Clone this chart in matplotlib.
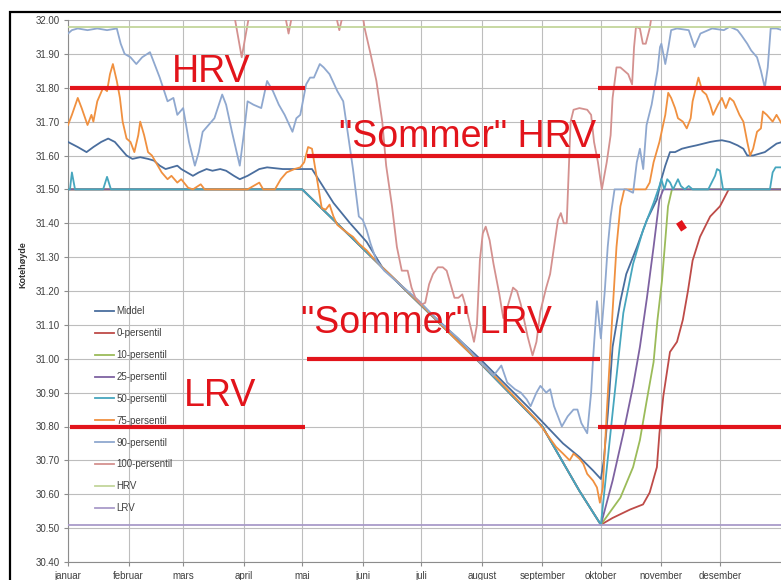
import matplotlib
matplotlib.use("Agg")
import matplotlib.pyplot as plt
from matplotlib.patches import Rectangle

plt.rcParams["font.family"] = ["Liberation Sans", "DejaVu Sans"]

# ── axis categories ─────────────────────────────────────────────────────────
MONTHS = ["januar", "februar", "mars", "april", "mai", "juni", "juli",
          "august", "september", "oktober", "november", "desember"]
MONTH_START = [0, 31, 59, 90, 120, 151, 181, 212, 243, 273, 304, 334]
Y_TICKS = [30.40, 30.50, 30.60, 30.70, 30.80, 30.90, 31.00, 31.10, 31.20,
           31.30, 31.40, 31.50, 31.60, 31.70, 31.80, 31.90, 32.00]

# ── series (day of year, kote) ──────────────────────────────────────────────
middel = [(0, 31.64), (5, 31.625), (9.5, 31.61), (13, 31.625), (17, 31.64),
          (20.6, 31.65), (24, 31.64), (27, 31.62), (30, 31.60), (33, 31.59),
          (37, 31.595), (41, 31.59), (44, 31.585), (47, 31.57), (50, 31.56),
          (53, 31.565), (56, 31.57), (58, 31.56), (61, 31.55), (64, 31.54),
          (67, 31.55), (71, 31.56), (74, 31.555), (78, 31.56), (81, 31.555),
          (85, 31.54), (88, 31.53), (92, 31.54), (95, 31.55), (98, 31.56),
          (102, 31.565), (110, 31.56), (125, 31.56), (136, 31.46), (144.5, 31.40),
          (153, 31.345), (161, 31.27), (170, 31.22), (180, 31.165), (195, 31.085),
          (211, 31.00), (237, 30.85), (253.6, 30.75), (262, 30.71), (269, 30.67),
          (273, 30.645), (274.5, 30.70), (276.6, 30.84), (279, 31.035), (283, 31.17),
          (286, 31.25), (291.5, 31.33), (296.6, 31.41), (301.7, 31.47), (304, 31.53),
          (306, 31.57), (308.4, 31.61), (311, 31.61), (314.5, 31.62), (318, 31.625),
          (322, 31.63), (329, 31.64), (332, 31.643), (335, 31.645), (339, 31.64),
          (343, 31.63), (346, 31.62), (348, 31.60), (351, 31.60), (354, 31.605),
          (357, 31.61), (360.6, 31.625), (363, 31.635), (366, 31.64)]

p0 = [(0, 31.50), (120, 31.50), (209, 31.00), (243, 30.80), (262, 30.61),
      (273, 30.51), (279, 30.53), (288, 30.555), (294.6, 30.57), (298, 30.605),
      (301.7, 30.68), (303, 30.78), (305, 30.89), (308.4, 31.02), (312, 31.05),
      (315, 31.115), (317.6, 31.20), (320, 31.29), (323.8, 31.36), (329, 31.42),
      (334, 31.45), (337.6, 31.49), (338.5, 31.50), (366, 31.50)]

p10 = [(0, 31.50), (120, 31.50), (209, 31.00), (243, 30.80), (262, 30.61),
       (273, 30.51), (283, 30.59), (289.5, 30.68), (293, 30.76), (296.6, 30.88),
       (300, 30.99), (302, 31.115), (304.3, 31.23), (306, 31.35), (307.4, 31.45),
       (309.4, 31.50), (366, 31.50)]

p25 = [(0, 31.50), (120, 31.50), (209, 31.00), (243, 30.80), (262, 30.61),
       (273, 30.51), (279, 30.64), (284.5, 30.78), (289.5, 30.92), (293, 31.035),
       (296.6, 31.18), (300, 31.33), (303, 31.47), (305, 31.50), (366, 31.50)]

p50 = [(0, 31.50), (1, 31.50), (2, 31.55), (3.6, 31.50), (18, 31.50),
       (20, 31.537), (22, 31.50), (120, 31.50), (209, 31.00), (243, 30.80),
       (262, 30.61), (273, 30.51), (279, 30.84), (284.5, 31.135), (289.5, 31.28),
       (294.6, 31.38), (300, 31.46), (303, 31.51), (304, 31.53), (305.5, 31.50),
       (307, 31.53), (308.5, 31.52), (310, 31.50), (312.5, 31.53), (314, 31.51),
       (316, 31.50), (318, 31.51), (320, 31.50), (328, 31.50), (331.5, 31.54),
       (332.5, 31.56), (334, 31.555), (335.6, 31.50), (359.6, 31.50), (361, 31.55),
       (362.5, 31.565), (366, 31.565)]

p75 = [(0, 31.69), (2, 31.72), (5, 31.77), (7, 31.74), (10, 31.69), (12, 31.72),
       (13, 31.70), (15, 31.76), (18, 31.80), (20, 31.79), (21.5, 31.84),
       (23, 31.87), (25, 31.82), (26.6, 31.77), (28, 31.70), (30, 31.65),
       (32, 31.64), (34, 31.61), (36, 31.66), (37, 31.70), (39, 31.66),
       (41, 31.61), (43, 31.60), (46, 31.57), (48, 31.55), (51, 31.53),
       (53, 31.54), (56, 31.52), (58, 31.53), (61.5, 31.505), (64, 31.50),
       (68, 31.515), (70, 31.50), (92, 31.50), (98, 31.52), (100, 31.50),
       (106, 31.50), (109, 31.53), (112, 31.55), (116, 31.56), (119, 31.565),
       (121, 31.58), (123, 31.625), (125, 31.62), (127, 31.55), (130, 31.445),
       (132, 31.44), (134, 31.455), (136, 31.42), (138, 31.395), (143.5, 31.37),
       (146, 31.36), (149, 31.34), (153, 31.32), (156, 31.30), (161, 31.27),
       (180, 31.165), (200, 31.05), (220, 30.94), (240, 30.82), (250, 30.74),
       (253.6, 30.72), (257, 30.70), (259, 30.72), (262, 30.705), (264, 30.69),
       (266, 30.66), (269, 30.64), (271, 30.62), (272.5, 30.575), (274, 30.62),
       (276, 30.84), (279, 31.14), (281, 31.33), (283, 31.45), (285, 31.50),
       (296, 31.50), (298, 31.52), (300, 31.58), (303, 31.64), (306, 31.72),
       (307.5, 31.785), (309, 31.77), (311, 31.74), (312.5, 31.71), (315, 31.70),
       (317, 31.68), (319, 31.71), (320, 31.76), (323, 31.83), (325, 31.79),
       (327, 31.78), (329, 31.75), (330.5, 31.72), (333, 31.75), (335, 31.77),
       (337, 31.74), (339, 31.77), (341, 31.76), (344, 31.72), (346, 31.70),
       (348, 31.64), (349.5, 31.60), (351, 31.62), (353, 31.67), (355, 31.68),
       (356, 31.73), (358, 31.72), (361, 31.70), (363, 31.72), (366, 31.69)]

p90 = [(0, 31.96), (2, 31.97), (5, 31.975), (10, 31.97), (15, 31.975),
       (20, 31.97), (25, 31.975), (27, 31.93), (29, 31.90), (32, 31.89),
       (35, 31.87), (38, 31.89), (42, 31.905), (45, 31.86), (47, 31.83),
       (51, 31.76), (54, 31.77), (56, 31.72), (59, 31.74), (62, 31.64),
       (65, 31.57), (67, 31.61), (69, 31.67), (72, 31.69), (75, 31.71),
       (79, 31.78), (81, 31.75), (84, 31.67), (88, 31.57), (90, 31.66),
       (92, 31.76), (95, 31.75), (99, 31.74), (102, 31.82), (105, 31.79),
       (108, 31.75), (111, 31.72), (115, 31.67), (117, 31.71), (119, 31.72),
       (122, 31.81), (124, 31.83), (126, 31.83), (129, 31.87), (131, 31.86),
       (134, 31.84), (138, 31.79), (141, 31.76), (143, 31.68), (146, 31.56),
       (149, 31.42), (151, 31.41), (153, 31.38), (155, 31.34), (158, 31.29),
       (162, 31.26), (170, 31.22), (180, 31.17), (190, 31.11), (200, 31.06),
       (205, 31.03), (211, 30.99), (215, 30.97), (218, 30.95), (222, 30.98),
       (225, 30.93), (229, 30.91), (232, 30.90), (235, 30.88), (237, 30.86),
       (240, 30.90), (242, 30.92), (245, 30.90), (247, 30.91), (249, 30.86),
       (253, 30.80), (256, 30.83), (259, 30.85), (261, 30.85), (263, 30.81),
       (266, 30.78), (268, 30.90), (269, 31.00), (271, 31.17), (273, 31.06),
       (275, 31.20), (276.5, 31.33), (278, 31.42), (280, 31.50), (286, 31.50),
       (289.5, 31.49), (291.4, 31.58), (293, 31.62), (294.7, 31.56), (296.4, 31.69),
       (299, 31.75), (302, 31.85), (303.3, 31.92), (304, 31.93), (306, 31.87),
       (307.6, 31.92), (309, 31.97), (312, 31.975), (318, 31.97), (321, 31.92),
       (324, 31.96), (330, 31.975), (336, 31.97), (339, 31.98), (343, 31.97),
       (345, 31.955), (348, 31.93), (350, 31.91), (353, 31.89), (355, 31.85),
       (357, 31.80), (358.5, 31.86), (360, 31.975), (363, 31.975), (366, 31.97)]

p100 = [(0, 32.05), (85, 32.02), (89, 31.89), (93, 32.02), (111, 32.02),
        (113, 31.96), (115, 32.02), (137, 32.02), (139, 31.97), (141, 32.02),
        (150, 32.05), (152, 31.975), (155, 31.90), (158, 31.82), (161, 31.70),
        (163, 31.57), (166, 31.45), (168.5, 31.33), (171, 31.26), (174, 31.26),
        (176, 31.21), (178, 31.18), (181, 31.16), (183, 31.165), (185, 31.22),
        (187, 31.25), (189.5, 31.27), (192, 31.27), (194, 31.26), (196, 31.22),
        (198, 31.18), (200, 31.18), (202, 31.19), (204, 31.15), (206, 31.10),
        (208, 31.05), (209.5, 31.10), (211, 31.29), (212.5, 31.37), (214, 31.39),
        (216, 31.35), (218, 31.28), (221, 31.19), (223, 31.12), (225, 31.15),
        (228, 31.21), (230, 31.20), (232, 31.16), (235.5, 31.065), (238, 31.01),
        (240, 31.05), (242, 31.14), (245, 31.21), (247, 31.25), (249.5, 31.35),
        (251, 31.41), (252.5, 31.43), (254, 31.40), (255.5, 31.40), (256.5, 31.55),
        (257.5, 31.70), (259, 31.735), (262, 31.74), (266, 31.735), (268, 31.72),
        (269.5, 31.64), (271.5, 31.58), (273.5, 31.50), (276, 31.58), (278, 31.66),
        (279, 31.77), (281, 31.86), (283, 31.86), (285, 31.85), (287, 31.84),
        (289, 31.81), (290, 31.92), (291, 31.98), (293, 31.975), (294.5, 31.93),
        (296, 31.93), (298, 31.975), (300, 32.05), (366, 32.05)]

HRV_LEVEL = 31.98
LRV_LEVEL = 30.51

# single red point in november
red_point = [(313.0, 31.404), (315.6, 31.381)]

# manually drawn regulation limits: level, first day, last day
limit_level = [31.80, 31.80, 31.60, 31.00, 30.80, 30.80]
limit_start = [1, 271.5, 122.5, 122.5, 1, 271.5]
limit_end = [121.5, 366, 272.5, 272.5, 121.5, 366]

SERIES = [
    ("Middel",        middel, "#4A6E9E"),
    ("0-persentil",   p0,     "#BE4B48"),
    ("10-persentil",  p10,    "#9BBB59"),
    ("25-persentil",  p25,    "#7E62A1"),
    ("50-persentil",  p50,    "#46A6BE"),
    ("75-persentil",  p75,    "#F0903F"),
    ("90-persentil",  p90,    "#8FA8CF"),
    ("100-persentil", p100,   "#D4918F"),
]

RED = "#E2141B"
GRID = "#BDBDBD"

# ── figure ──────────────────────────────────────────────────────────────────
fig = plt.figure(figsize=(7.81, 5.80), dpi=100)
ax = fig.add_axes([68 / 781, 18 / 580, 714.4 / 781, 542 / 580])

for name, pts, col in SERIES:
    d, v = zip(*pts)
    ax.plot(d, v, color=col, lw=1.3, label=name, zorder=3)
ax.axhline(HRV_LEVEL, color="#C3D69B", lw=1.3, label="HRV", zorder=3)
ax.axhline(LRV_LEVEL, color="#A99BC9", lw=1.3, label="LRV", zorder=3)

# regulation limits and labels
ax.hlines(limit_level, limit_start, limit_end, colors=RED, lw=3.0, zorder=5)
d, v = zip(*red_point)
ax.plot(d, v, color=RED, lw=5, solid_capstyle="butt", zorder=5)

txt = dict(color=RED, fontsize=27, ha="center", va="baseline", zorder=6)
ax.text(73.3, 31.817, "HRV", **txt)
ax.text(204.9, 31.625, '"Sommer" HRV', **txt)
ax.text(183.4, 31.077, '"Sommer" LRV', **txt)
ax.text(78.0, 30.861, "LRV", **txt)

# axes styling
ax.set_xlim(0, 366)
ax.set_ylim(30.40, 32.00)
ax.set_xticks(MONTH_START)
ax.set_xticklabels(MONTHS)
ax.set_yticks(Y_TICKS)
ax.set_yticklabels([f"{t:.2f}" for t in Y_TICKS])
ax.grid(True, color=GRID, lw=0.8)
ax.set_axisbelow(True)
for s in ("top", "right"):
    ax.spines[s].set_visible(False)
for s in ("left", "bottom"):
    ax.spines[s].set_color("#8C8C8C")
    ax.spines[s].set_linewidth(0.8)
ax.tick_params(axis="both", labelsize=7, colors="#8C8C8C", labelcolor="#404040",
               length=3, width=0.8)
ax.tick_params(axis="y", pad=2.8)
ax.tick_params(axis="x", pad=3.5)

fig.text(23 / 781, 1 - 265 / 580, "Kotehøyde", rotation=90, fontsize=6.5,
         fontweight="bold", color="#303030", ha="center", va="center")

leg = ax.legend(loc="upper left", bbox_to_anchor=(0.0378, 0.4716),
                frameon=False, fontsize=7, handlelength=2.0, handletextpad=0.2,
                labelspacing=1.22, borderpad=0, borderaxespad=0)
for t in leg.get_texts():
    t.set_color("#404040")

# chart frame
fig.add_artist(Rectangle((10 / 781, -0.5), 2.0, (1 - 12 / 580) + 0.5,
                         transform=fig.transFigure, fill=False,
                         ec="black", lw=1.6))

fig.savefig("out.png", dpi=100)
